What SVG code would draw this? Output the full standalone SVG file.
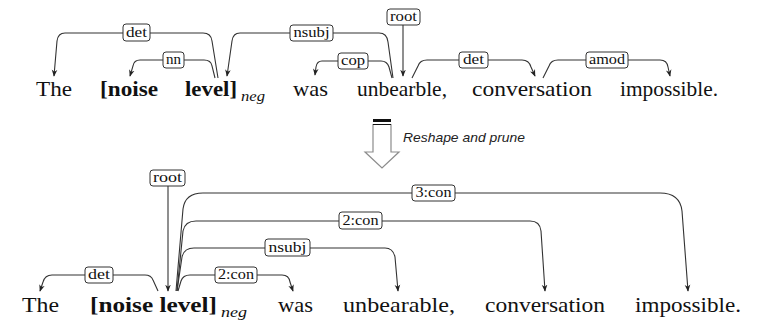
<svg xmlns="http://www.w3.org/2000/svg" width="762" height="330" viewBox="0 0 762 330">
<defs>
<marker id="ah" viewBox="0 0 10 10" refX="9" refY="5" markerWidth="7" markerHeight="7" orient="auto-start-reverse" markerUnits="userSpaceOnUse">
<path d="M0,1 L10,5 L0,9 L3,5 Z" fill="#222"/>
</marker>
<style>
text{font-family:'Liberation Serif','DejaVu Serif',serif}
.w{fill:#111}
.t{font-size:21px}
.b{font-size:22px}
.bd{font-weight:bold}
.sub{font-style:italic;font-size:14px;fill:#111}
.e{fill:none;stroke:#333;stroke-width:1.1}
.a{marker-end:url(#ah)}
.lb rect{fill:#fff;stroke:#333;stroke-width:1}
.lb text{font-size:14px;fill:#111;text-anchor:middle}
text.rs{font-family:'Liberation Sans','DejaVu Sans',sans-serif;font-style:italic;font-size:13.5px;fill:#222}
</style>
</defs>
<rect width="762" height="330" fill="#fff"/>

<!-- top sentence words -->
<g id="t-the"><text class="w t" x="36" y="96" textLength="36" lengthAdjust="spacingAndGlyphs">The</text></g>
<g id="t-noise"><text class="w t bd" x="100" y="96" textLength="58" lengthAdjust="spacingAndGlyphs">[noise</text></g>
<g id="t-level"><text class="w t bd" x="185" y="96" textLength="52" lengthAdjust="spacingAndGlyphs">level]</text><text class="sub" x="241" y="101" textLength="24" lengthAdjust="spacingAndGlyphs">neg</text></g>
<g id="t-was"><text class="w t" x="293" y="96" textLength="35" lengthAdjust="spacingAndGlyphs">was</text></g>
<g id="t-unbearble"><text class="w t" x="357" y="96" textLength="90" lengthAdjust="spacingAndGlyphs">unbearble,</text></g>
<g id="t-conversation"><text class="w t" x="472" y="96" textLength="120" lengthAdjust="spacingAndGlyphs">conversation</text></g>
<g id="t-impossible"><text class="w t" x="620" y="96" textLength="98" lengthAdjust="spacingAndGlyphs">impossible.</text></g>

<!-- bottom sentence words -->
<g id="b-the"><text class="w b" x="22" y="312" textLength="37" lengthAdjust="spacingAndGlyphs">The</text></g>
<g id="b-noiselevel"><text class="w b bd" x="90" y="312" textLength="127" lengthAdjust="spacingAndGlyphs">[noise level]</text><text class="sub" x="221" y="317" textLength="26" lengthAdjust="spacingAndGlyphs">neg</text></g>
<g id="b-was"><text class="w b" x="278" y="312" textLength="35" lengthAdjust="spacingAndGlyphs">was</text></g>
<g id="b-unbearable"><text class="w b" x="343" y="312" textLength="112" lengthAdjust="spacingAndGlyphs">unbearable,</text></g>
<g id="b-conversation"><text class="w b" x="485" y="312" textLength="120" lengthAdjust="spacingAndGlyphs">conversation</text></g>
<g id="b-impossible"><text class="w b" x="635" y="312" textLength="106" lengthAdjust="spacingAndGlyphs">impossible.</text></g>

<!-- transformation arrow -->
<g id="reshape">
<path d="M373,124 L373,152 L365,152 L382,168 L399,152 L391,152 L391,124" fill="#fff" stroke="#8c8c8c" stroke-width="1.2"/>
<rect x="373" y="119" width="18" height="3" fill="#111"/>
<line x1="373" y1="124.5" x2="391" y2="124.5" stroke="#111" stroke-width="1"/>
<text class="rs" x="403" y="142" textLength="122" lengthAdjust="spacingAndGlyphs">Reshape and prune</text>
</g>

<!-- connectors -->
<g id="connectors">
<path class="e a" d="M218,78 L212,41 Q211,33 203,33 L65,33 Q58,33 57,41 L54,76"/>
<path class="e a" d="M215,78 L212,66 Q211,60 204,60 L140,60 Q134,60 133,66 L130,76"/>
<path class="e a" d="M393,78 L388,42 Q387,33 379,33 L240,33 Q233,33 232,41 L227,76"/>
<path class="e a" d="M392,78 L389,67 Q387,61 381,61 L322,61 Q317,61 316,67 L315,75"/>
<path class="e a" d="M403,25 L403,76"/>
<path class="e a" d="M412,78 L418,66 Q420,60 427,60 L522,60 Q529,60 531,67 L535,76"/>
<path class="e a" d="M543,78 L549,66 Q551,60 558,60 L660,60 Q667,60 668,67 L670,76"/>

<path class="e a" d="M158,291 L153,280 Q151,275 145,275 L52,275 Q45,275 43,282 L40,291"/>
<path class="e a" d="M168,186 L168,291"/>
<path class="e a" d="M178,291 L181,281 Q183,275 190,275 L282,275 Q289,275 290,282 L293,291"/>
<path class="e a" d="M177,291 L182,257 Q184,248 194,248 L385,248 Q393,248 395,257 L398,291"/>
<path class="e a" d="M177,291 L183,231 Q185,221 196,221 L530,221 Q540,221 541,231 L545,291"/>
<path class="e a" d="M176,291 L183,209 Q185,193 203,193 L660,193 Q680,193 682,211 L688,291"/>

<g class="lb">
<rect x="123" y="24" width="27" height="17" rx="3"/><text x="136.5" y="37" textLength="21" lengthAdjust="spacingAndGlyphs">det</text>
<rect x="163" y="52" width="21" height="16" rx="3"/><text x="173.5" y="64" textLength="15" lengthAdjust="spacingAndGlyphs">nn</text>
<rect x="290" y="25" width="43" height="16" rx="3"/><text x="311.5" y="37" textLength="36" lengthAdjust="spacingAndGlyphs">nsubj</text>
<rect x="387" y="9" width="33" height="16" rx="3"/><text x="403.5" y="21" textLength="27" lengthAdjust="spacingAndGlyphs">root</text>
<rect x="338" y="53" width="30" height="16" rx="3"/><text x="353" y="65" textLength="24" lengthAdjust="spacingAndGlyphs">cop</text>
<rect x="459" y="52" width="29" height="16" rx="3"/><text x="473.5" y="64" textLength="21" lengthAdjust="spacingAndGlyphs">det</text>
<rect x="586" y="52" width="42" height="16" rx="3"/><text x="607" y="64" textLength="36" lengthAdjust="spacingAndGlyphs">amod</text>

<rect x="85" y="267" width="28" height="16" rx="3"/><text x="99" y="279" textLength="22" lengthAdjust="spacingAndGlyphs">det</text>
<rect x="150" y="170" width="35" height="16" rx="3"/><text x="167.5" y="182" textLength="29" lengthAdjust="spacingAndGlyphs">root</text>
<rect x="215" y="267" width="42" height="16" rx="3"/><text x="236" y="279" textLength="36" lengthAdjust="spacingAndGlyphs">2:con</text>
<rect x="265" y="239" width="45" height="17" rx="3"/><text x="287.5" y="252" textLength="38" lengthAdjust="spacingAndGlyphs">nsubj</text>
<rect x="339" y="212" width="43" height="17" rx="3"/><text x="360.5" y="225" textLength="36" lengthAdjust="spacingAndGlyphs">2:con</text>
<rect x="412" y="185" width="43" height="16" rx="3"/><text x="433.5" y="197" textLength="36" lengthAdjust="spacingAndGlyphs">3:con</text>
</g>
</g>
</svg>
